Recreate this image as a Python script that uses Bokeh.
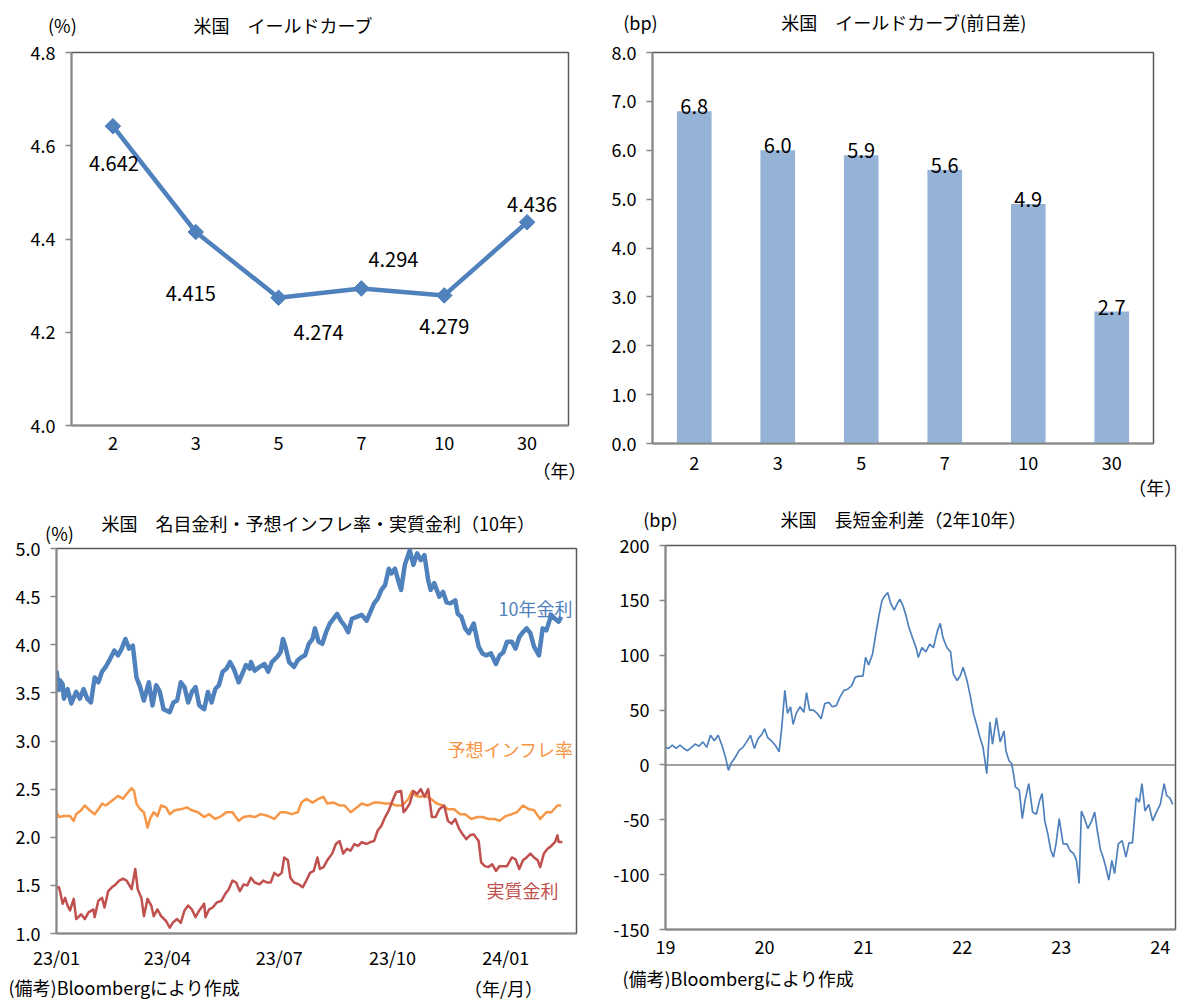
from bokeh.plotting import figure
from bokeh.models import (ColumnDataSource, FactorRange, Range1d, FixedTicker,
                          NumeralTickFormatter, LabelSet, Span)
from bokeh.core.properties import value
from bokeh.layouts import column, row
from bokeh.embed import file_html
from bokeh.resources import INLINE

FONT = "Noto Sans CJK JP"
BLUE = "#4F81BD"
ORANGE = "#F79646"
RED = "#C0504D"
BAR = "#95B3D7"

# ---------------- data ----------------
maturities = ["2", "3", "5", "7", "10", "30"]
curve_yield_pct = [4.642, 4.415, 4.274, 4.294, 4.279, 4.436]
curve_change_bp = [6.8, 6.0, 5.9, 5.6, 4.9, 2.7]

# (days since 2023-01-01, %)
nominal_10y = [
    (0, 3.73), (2, 3.53), (3, 3.63), (5, 3.59), (6, 3.44), (9, 3.54), (12, 3.39), (16, 3.51),
    (19, 3.44), (22, 3.54), (25, 3.44), (28, 3.40), (31, 3.66), (34, 3.61), (37, 3.72), (40, 3.77),
    (43, 3.84), (47, 3.94), (50, 3.89), (53, 3.96), (56, 4.06), (59, 3.96), (62, 3.99), (65, 3.66),
    (68, 3.56), (71, 3.42), (75, 3.61), (78, 3.37), (81, 3.58), (84, 3.51), (87, 3.33), (92, 3.30),
    (95, 3.40), (98, 3.42), (101, 3.61), (104, 3.56), (107, 3.40), (110, 3.51), (113, 3.56),
    (116, 3.37), (120, 3.33), (123, 3.51), (126, 3.40), (129, 3.54), (132, 3.58), (135, 3.72),
    (138, 3.75), (141, 3.82), (144, 3.75), (148, 3.61), (151, 3.70), (154, 3.79), (157, 3.75),
    (158, 3.82), (161, 3.73), (165, 3.77), (169, 3.80), (172, 3.72), (175, 3.82), (179, 3.87),
    (182, 3.92), (184, 4.06), (186, 3.98), (189, 3.82), (193, 3.77), (196, 3.84), (199, 3.87),
    (202, 3.89), (205, 4.01), (208, 4.06), (210, 4.17), (213, 4.03), (216, 4.01), (219, 4.13),
    (222, 4.22), (225, 4.27), (228, 4.32), (231, 4.25), (234, 4.20), (237, 4.13), (240, 4.27),
    (244, 4.29), (248, 4.31), (252, 4.25), (255, 4.34), (258, 4.43), (261, 4.48), (264, 4.57),
    (267, 4.62), (270, 4.79), (272, 4.74), (275, 4.79), (278, 4.65), (280, 4.57), (283, 4.83),
    (287, 4.98), (290, 4.83), (293, 4.95), (296, 4.88), (299, 4.93), (302, 4.67), (304, 4.57),
    (307, 4.64), (311, 4.50), (314, 4.55), (317, 4.44), (320, 4.43), (324, 4.46), (326, 4.32),
    (329, 4.29), (332, 4.17), (335, 4.12), (339, 4.22), (343, 3.98), (346, 3.91), (349, 3.89),
    (353, 3.91), (357, 3.80), (360, 3.89), (363, 3.92), (366, 4.03), (370, 4.03), (373, 3.96),
    (376, 4.08), (379, 4.13), (382, 4.17), (385, 4.12), (388, 3.98), (392, 3.89), (395, 4.17),
    (398, 4.15), (402, 4.31), (405, 4.27), (408, 4.24), (410, 4.29),
]
breakeven_10y = [
    (0, 2.26), (2, 2.21), (6, 2.22), (11, 2.22), (14, 2.17), (16, 2.24), (20, 2.28), (23, 2.33),
    (27, 2.28), (31, 2.24), (34, 2.29), (37, 2.35), (40, 2.33), (45, 2.38), (50, 2.43), (54, 2.40),
    (57, 2.45), (61, 2.51), (63, 2.48), (65, 2.35), (68, 2.29), (71, 2.26), (74, 2.10), (76, 2.19),
    (79, 2.26), (82, 2.22), (85, 2.33), (89, 2.31), (92, 2.24), (96, 2.28), (101, 2.29), (106, 2.31),
    (110, 2.28), (115, 2.26), (120, 2.21), (124, 2.24), (129, 2.19), (134, 2.22), (138, 2.26),
    (143, 2.26), (148, 2.17), (152, 2.21), (157, 2.22), (161, 2.21), (166, 2.24), (172, 2.22),
    (177, 2.19), (182, 2.26), (186, 2.26), (191, 2.24), (196, 2.26), (199, 2.36), (203, 2.40),
    (208, 2.36), (213, 2.40), (217, 2.42), (220, 2.35), (225, 2.36), (230, 2.33), (234, 2.33),
    (239, 2.26), (244, 2.31), (248, 2.35), (253, 2.33), (258, 2.36), (262, 2.36), (267, 2.35),
    (272, 2.35), (276, 2.33), (281, 2.33), (286, 2.40), (289, 2.48), (292, 2.43), (295, 2.42),
    (300, 2.43), (304, 2.40), (309, 2.35), (314, 2.33), (318, 2.29), (323, 2.29), (328, 2.24),
    (332, 2.24), (337, 2.19), (342, 2.21), (346, 2.21), (351, 2.19), (356, 2.19), (360, 2.17),
    (365, 2.22), (370, 2.24), (374, 2.26), (379, 2.33), (384, 2.29), (388, 2.28), (393, 2.19),
    (398, 2.26), (402, 2.26), (407, 2.33), (410, 2.33),
]
real_10y = [
    (0, 1.48), (2, 1.48), (3, 1.43), (5, 1.31), (7, 1.37), (9, 1.29), (11, 1.24), (14, 1.36),
    (16, 1.15), (20, 1.20), (23, 1.15), (26, 1.22), (30, 1.25), (31, 1.17), (34, 1.34), (37, 1.37),
    (39, 1.27), (42, 1.44), (45, 1.48), (48, 1.51), (51, 1.55), (54, 1.57), (57, 1.55), (61, 1.46),
    (64, 1.67), (66, 1.46), (69, 1.37), (71, 1.18), (74, 1.36), (77, 1.29), (79, 1.18), (82, 1.25),
    (85, 1.18), (89, 1.13), (92, 1.06), (95, 1.12), (98, 1.15), (101, 1.11), (104, 1.24),
    (107, 1.29), (110, 1.25), (113, 1.17), (116, 1.24), (120, 1.31), (121, 1.17), (124, 1.25),
    (127, 1.27), (130, 1.32), (134, 1.34), (137, 1.41), (140, 1.46), (143, 1.55), (146, 1.53),
    (149, 1.44), (152, 1.51), (155, 1.50), (158, 1.58), (161, 1.53), (165, 1.51), (168, 1.55),
    (171, 1.53), (174, 1.53), (177, 1.63), (180, 1.60), (183, 1.63), (185, 1.79), (188, 1.76),
    (190, 1.58), (193, 1.53), (197, 1.51), (200, 1.48), (203, 1.55), (206, 1.63), (209, 1.65),
    (212, 1.79), (214, 1.67), (217, 1.69), (220, 1.76), (224, 1.83), (227, 1.93), (230, 1.96),
    (233, 1.83), (236, 1.88), (239, 1.86), (242, 1.93), (245, 1.91), (248, 1.95), (252, 1.93),
    (255, 1.95), (258, 1.96), (261, 2.07), (264, 2.12), (267, 2.21), (270, 2.28), (273, 2.38),
    (276, 2.47), (280, 2.48), (282, 2.26), (284, 2.29), (287, 2.35), (290, 2.48), (293, 2.45),
    (296, 2.50), (299, 2.42), (302, 2.50), (305, 2.21), (308, 2.21), (311, 2.29), (315, 2.33),
    (318, 2.17), (321, 2.14), (324, 2.19), (327, 2.09), (330, 2.03), (333, 1.98), (336, 2.02),
    (339, 2.03), (343, 1.96), (345, 1.74), (348, 1.70), (351, 1.69), (354, 1.72), (357, 1.65),
    (360, 1.70), (363, 1.70), (366, 1.70), (370, 1.79), (373, 1.77), (376, 1.67), (379, 1.76),
    (382, 1.79), (385, 1.83), (388, 1.79), (391, 1.76), (393, 1.69), (396, 1.83), (399, 1.88),
    (402, 1.91), (405, 1.95), (407, 2.02), (408, 1.95), (411, 1.95),
]

# 2y-10y spread: years since 2019-01-01, bp
spread_t = [
    0.000, 0.031, 0.069, 0.108, 0.146, 0.185, 0.223, 0.262, 0.300, 0.339,
    0.378, 0.416, 0.455, 0.493, 0.532, 0.570, 0.609, 0.636, 0.666, 0.705,
    0.743, 0.782, 0.820, 0.859, 0.898, 0.936, 0.975, 1.002, 1.032, 1.071,
    1.109, 1.148, 1.175, 1.206, 1.233, 1.263, 1.290, 1.321, 1.360, 1.398,
    1.425, 1.456, 1.495, 1.533, 1.572, 1.610, 1.649, 1.687, 1.726, 1.764,
    1.803, 1.841, 1.880, 1.918, 1.957, 1.995, 2.022, 2.053, 2.092, 2.130,
    2.157, 2.188, 2.215, 2.246, 2.277, 2.311, 2.342, 2.369, 2.400, 2.431,
    2.458, 2.496, 2.535, 2.554, 2.592, 2.631, 2.670, 2.708, 2.747, 2.777,
    2.804, 2.843, 2.881, 2.908, 2.947, 2.978, 3.008, 3.047, 3.082, 3.112,
    3.143, 3.178, 3.209, 3.247, 3.278, 3.305, 3.344, 3.382, 3.421, 3.440,
    3.471, 3.498, 3.517, 3.536, 3.575, 3.606, 3.632, 3.671, 3.710, 3.748,
    3.779, 3.806, 3.833, 3.864, 3.894, 3.921, 3.948, 3.979, 4.018, 4.056,
    4.087, 4.126, 4.153, 4.180, 4.203, 4.230, 4.268, 4.307, 4.337, 4.364,
    4.395, 4.422, 4.449, 4.480, 4.511, 4.538, 4.576, 4.615, 4.653, 4.684,
    4.719, 4.757, 4.788, 4.815, 4.846, 4.884, 4.923, 4.961, 5.000, 5.039,
    5.065, 5.096, 5.127,
]
spread_bp = [
    16, 15, 18, 15, 18, 15, 13, 16, 19, 17,
    21, 16, 27, 22, 27, 18, 6, -5, 2, 7,
    13, 16, 21, 27, 15, 24, 28, 33, 25, 22,
    18, 12, 34, 68, 47, 53, 37, 47, 53, 48,
    66, 50, 50, 47, 42, 56, 57, 53, 54, 62,
    68, 69, 72, 80, 81, 81, 98, 91, 101, 122,
    136, 150, 154, 157, 147, 141, 147, 151, 145, 136,
    126, 116, 106, 98, 107, 103, 110, 107, 122, 129,
    116, 107, 103, 83, 77, 81, 89, 77, 62, 47,
    37, 25, 16, -8, 39, 19, 43, 21, 31, 13,
    4, 1, -8, -20, -23, -49, -33, -17, -43, -45,
    -33, -26, -51, -63, -78, -84, -71, -49, -72, -72,
    -78, -81, -87, -108, -42, -48, -58, -51, -43, -60,
    -77, -84, -93, -105, -87, -99, -72, -69, -84, -71,
    -71, -30, -34, -17, -42, -36, -51, -43, -36, -17,
    -28, -30, -36,
]

quarter_days = [0, 90, 181, 273, 365]
quarter_labels = ["23/01", "23/04", "23/07", "23/10", "24/01"]
year_ticks = [2019, 2020, 2021, 2022, 2023, 2024]
year_labels = ["19", "20", "21", "22", "23", "24"]

# pixel nudges of the value labels on the yield curve (dx right, dy up)
curve_label_dx = [1, -5, 40, 32, 0, 5]
curve_label_dy = [-37, -61, -35, 29, -31, 18]


# ---------------- helpers ----------------
def make_fig(width, height, x_range, y_range, left, right, top, bottom):
    p = figure(width=width, height=height, x_range=x_range, y_range=y_range,
               output_backend="svg", toolbar_location=None, tools="",
               min_border_left=left, min_border_right=right,
               min_border_top=top, min_border_bottom=bottom)
    p.grid.visible = False
    p.background_fill_color = "white"
    p.border_fill_color = "white"
    p.outline_line_color = "#595959"
    p.outline_line_width = 1.5
    for ax in p.axis:
        ax.axis_line_color = "#898989"
        ax.axis_line_width = 2
        ax.major_label_text_font = FONT
        ax.major_label_text_font_size = "18px"
        ax.major_label_text_color = "black"
        ax.minor_tick_line_color = None
    for ax in p.xaxis:
        ax.major_tick_line_color = None
        ax.major_tick_in = 0
        ax.major_tick_out = 0
        ax.major_label_standoff = 10
    for ax in p.yaxis:
        ax.major_tick_line_color = "#898989"
        ax.major_tick_line_width = 1.5
        ax.major_tick_in = 0
        ax.major_tick_out = 6
        ax.major_label_standoff = 10
    return p


def note(p, x, y, text, color="black", size="18px", align="center"):
    # overlay-level text glyph, so it may sit outside the plot frame
    p.text(x=[x], y=[y], text=[text], text_font=value(FONT), text_font_size=value(size),
           text_color=color, text_align=align, text_baseline="middle", level="overlay")


# ---------------- yield curve ----------------
p1 = make_fig(590, 500, FactorRange(*maturities), Range1d(4.0, 4.8), 71, 22, 52, 75)
p1.yaxis.ticker = FixedTicker(ticks=[4.0, 4.2, 4.4, 4.6, 4.8])
p1.yaxis.formatter = NumeralTickFormatter(format="0.0")
src1 = ColumnDataSource(dict(x=maturities, y=curve_yield_pct,
                             txt=[f"{v:.3f}" for v in curve_yield_pct],
                             dx=curve_label_dx, dy=curve_label_dy))
p1.line("x", "y", source=src1, line_color=BLUE, line_width=4.5)
p1.scatter("x", "y", source=src1, marker="square", angle=0.785398, size=11,
           fill_color=BLUE, line_color=BLUE)
p1.add_layout(LabelSet(x="x", y="y", text="txt", source=src1, x_offset="dx", y_offset="dy",
                       text_font=value(FONT), text_font_size="20px", text_color="black",
                       text_align="center", text_baseline="middle"))
note(p1, 2.56, 4.858, "米国　イールドカーブ")
note(p1, -0.11, 4.858, "(%)")
note(p1, 5.89, 3.9035, "（年）")

# ---------------- daily change ----------------
p2 = make_fig(597, 500, FactorRange(*maturities), Range1d(0, 8), 62, 34, 52, 57)
p2.yaxis.ticker = FixedTicker(ticks=list(range(0, 9)))
p2.yaxis.formatter = NumeralTickFormatter(format="0.0")
p2.xaxis.major_label_standoff = 12
src2 = ColumnDataSource(dict(x=maturities, top=curve_change_bp,
                             txt=[f"{v:.1f}" for v in curve_change_bp]))
p2.vbar(x="x", top="top", width=0.415, source=src2, fill_color=BAR, line_color=None)
p2.add_layout(LabelSet(x="x", y="top", text="txt", source=src2, y_offset=-3,
                       text_font=value(FONT), text_font_size="20px", text_color="black",
                       text_align="center", text_baseline="bottom"))
note(p2, 3.015, 8.614, "米国　イールドカーブ(前日差)")
note(p2, -0.144, 8.614, "(bp)")
note(p2, 6.02, -0.90, "（年）")

# ---------------- nominal / breakeven / real ----------------
p3 = make_fig(590, 501, Range1d(0, 422.5), Range1d(1.0, 5.0), 56, 14, 48, 68)
p3.yaxis.ticker = FixedTicker(ticks=[1.0, 1.5, 2.0, 2.5, 3.0, 3.5, 4.0, 4.5, 5.0])
p3.yaxis.formatter = NumeralTickFormatter(format="0.0")
p3.xaxis.ticker = FixedTicker(ticks=quarter_days)
p3.xaxis.major_label_overrides = dict(zip(quarter_days, quarter_labels))
for series, color, width in ((nominal_10y, BLUE, 4.5), (breakeven_10y, ORANGE, 2.5),
                             (real_10y, RED, 2.5)):
    xs = [d for d, _ in series]
    ys = [v for _, v in series]
    p3.line(xs, ys, line_color=color, line_width=width, line_join="round")
note(p3, 212.9, 5.26, "米国　名目金利・予想インフレ率・実質金利（10年）")
note(p3, 2.4, 5.156, "(%)")
note(p3, 389.2, 4.387, "10年金利", color=BLUE)
note(p3, 368.9, 2.922, "予想インフレ率", color=ORANGE)
note(p3, 378.6, 1.447, "実質金利", color=RED)
note(p3, -39, 0.439, "(備考)Bloombergにより作成", align="left")
note(p3, 363.2, 0.429, "（年/月）")

# ---------------- 2y-10y spread ----------------
p4 = make_fig(597, 501, Range1d(2019, 2024.154), Range1d(-150, 200), 75, 12, 45, 72)
p4.yaxis.ticker = FixedTicker(ticks=list(range(-150, 201, 50)))
p4.yaxis.formatter = NumeralTickFormatter(format="0")
p4.xaxis.ticker = FixedTicker(ticks=year_ticks)
p4.xaxis.major_label_overrides = dict(zip(year_ticks, year_labels))
p4.add_layout(Span(location=0, dimension="width", line_color="#808080", line_width=1.5,
                   level="underlay"))
p4.line([2019 + t for t in spread_t], spread_bp, line_color=BLUE, line_width=1.7)
note(p4, 2021.405, 224.6, "米国　長短金利差（2年10年）")
note(p4, 2018.949, 224.6, "(bp)")
note(p4, 2018.565, -193.8, "(備考)Bloombergにより作成", align="left")

# each chart in its own column so that the frames are not aligned across the row
layout = column(row(column(p1), column(p2)), row(column(p3), column(p4)))
open("out.html", "w").write(file_html(layout, INLINE))
